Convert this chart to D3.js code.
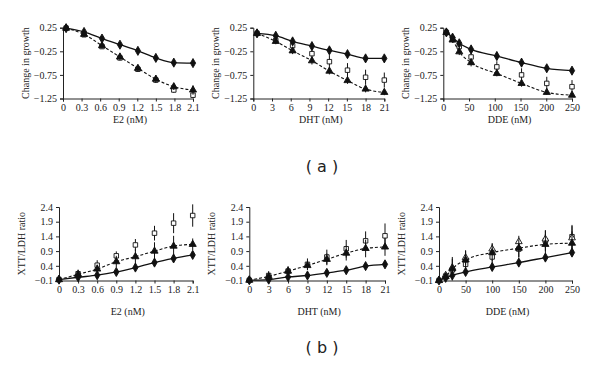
<!DOCTYPE html>
<html>
<head>
<meta charset="utf-8">
<script src="https://cdn.jsdelivr.net/npm/d3@7"></script>
<style>
  body { margin: 0; background: #fff; }
  svg text { fill: #222; }
  .tick text { font-family: "Liberation Serif", "Times New Roman", serif; font-size: 10px; }
  .axisText { font-family: "Liberation Serif", "Times New Roman", serif; font-size: 10px; }
  .panelTag { font-family: "DejaVu Sans", Verdana, sans-serif; font-size: 16px; }
</style>
</head>
<body>
<div id="chart"></div>
<script>
// tick labels
var e2Ticks = [0, 0.3, 0.6, 0.9, 1.2, 1.5, 1.8, 2.1];
var dhtTicks = [0, 3, 6, 9, 12, 15, 18, 21];
var ddeTicks = [0, 50, 100, 150, 200, 250];
var growthTicks = [0.25, -0.25, -0.75, -1.25];
var ratioTicks = [-0.1, 0.4, 0.9, 1.4, 1.9, 2.4];

// (a) change in growth
var aE2Dose = [0.05, 0.34, 0.63, 0.92, 1.21, 1.5, 1.79, 2.1];
var aE2Diamond = [0.24, 0.16, 0.02, -0.11, -0.24, -0.39, -0.49, -0.50];
var aE2DiamondErr = [0.03, 0.04, 0.05, 0.05, 0.05, 0.05, 0.03, 0.05];
var aE2Triangle = [0.24, 0.11, -0.13, -0.37, -0.61, -0.84, -1.00, -1.07];
var aE2TriangleErr = [0.03, 0.05, 0.06, 0.07, 0.07, 0.08, 0.07, 0.1];
var aE2Square = [0.24, 0.10, -0.15, -0.39, -0.63, -0.86, -1.07, -1.18];
var aE2SquareErr = [0.03, 0.04, 0.05, 0.05, 0.05, 0.05, 0.06, 0.06];

var aDhtDose = [0.6, 3.6, 6.3, 9.4, 12.2, 15.1, 18, 21];
var aDhtDiamond = [0.13, 0.08, -0.04, -0.14, -0.23, -0.31, -0.40, -0.40];
var aDhtDiamondErr = [0.07, 0.06, 0.07, 0.07, 0.06, 0.06, 0.05, 0.05];
var aDhtTriangle = [0.13, -0.04, -0.24, -0.45, -0.67, -0.87, -1.05, -1.12];
var aDhtTriangleErr = [0.07, 0.06, 0.07, 0.08, 0.07, 0.07, 0.07, 0.06];
var aDhtSquare = [0.13, -0.02, -0.13, -0.30, -0.47, -0.65, -0.80, -0.86];
var aDhtSquareErr = [0.07, 0.07, 0.1, 0.12, 0.14, 0.15, 0.16, 0.16];

var aDdeDose = [6, 18, 31, 54, 104, 152, 201, 250];
var aDdeDiamond = [0.15, 0.04, -0.08, -0.21, -0.35, -0.49, -0.61, -0.66];
var aDdeDiamondErr = [0.05, 0.06, 0.07, 0.08, 0.09, 0.09, 0.07, 0.05];
var aDdeTriangle = [0.15, -0.01, -0.26, -0.49, -0.72, -0.93, -1.12, -1.18];
var aDdeTriangleErr = [0.05, 0.06, 0.07, 0.08, 0.06, 0.07, 0.05, 0.04];
var aDdeSquare = [0.15, 0.01, -0.15, -0.37, -0.58, -0.75, -0.93, -1.00];
var aDdeSquareErr = [0.05, 0.06, 0.08, 0.1, 0.12, 0.14, 0.14, 0.14];

// (b) XTT/LDH ratio
var bE2Dose = [0, 0.3, 0.6, 0.9, 1.2, 1.5, 1.8, 2.1];
var bE2Diamond = [-0.07, 0.01, 0.08, 0.19, 0.34, 0.51, 0.65, 0.77];
var bE2DiamondErr = [0.03, 0.05, 0.06, 0.06, 0.08, 0.1, 0.1, 0.12];
var bE2Triangle = [-0.07, 0.11, 0.29, 0.54, 0.71, 0.90, 1.07, 1.13];
var bE2TriangleErr = [0.04, 0.1, 0.15, 0.2, 0.25, 0.3, 0.35, 0.2];
var bE2Square = [-0.07, 0.13, 0.42, 0.74, 1.11, 1.51, 1.85, 2.11];
var bE2SquareErr = [0.03, 0.14, 0.17, 0.15, 0.2, 0.25, 0.34, 0.38];

var bDhtDose = [0, 3, 6, 9, 12, 15, 18, 21];
var bDhtDiamond = [-0.09, -0.07, 0.02, 0.07, 0.16, 0.25, 0.39, 0.45];
var bDhtDiamondErr = [0.03, 0.05, 0.08, 0.1, 0.1, 0.1, 0.1, 0.1];
var bDhtTriangle = [-0.09, 0.04, 0.22, 0.41, 0.62, 0.83, 0.99, 1.04];
var bDhtTriangleErr = [0.03, 0.1, 0.12, 0.15, 0.2, 0.25, 0.3, 0.3];
var bDhtSquare = [-0.09, 0.07, 0.22, 0.45, 0.70, 0.98, 1.25, 1.42];
var bDhtSquareErr = [0.03, 0.15, 0.17, 0.2, 0.25, 0.3, 0.32, 0.42];

var bDdeDose = [0, 12.5, 25, 50, 100, 150, 200, 250];
var bDdeDiamond = [-0.1, -0.01, 0.07, 0.19, 0.36, 0.51, 0.68, 0.85];
var bDdeDiamondErr = [0.03, 0.08, 0.1, 0.12, 0.12, 0.12, 0.12, 0.12];
var bDdeTriangle = [-0.1, 0.03, 0.30, 0.60, 0.85, 1.00, 1.13, 1.17];
var bDdeTriangleErr = [0.03, 0.1, 0.4, 0.3, 0.3, 0.3, 0.35, 0.4];
var bDdeSquare = [-0.1, 0.05, 0.26, 0.45, 0.70, 0.97, 1.25, 1.39];
var bDdeSquareErr = [0.03, 0.1, 0.2, 0.25, 0.25, 0.3, 0.35, 0.4];
var bDdeOpenTri = [-0.1, 0.08, 0.34, 0.68, 0.97, 1.22, 1.31, 1.35];
var bDdeOpenTriErr = [0.03, 0.1, 0.3, 0.25, 0.2, 0.2, 0.3, 0.4];

var svgWidth = 600;
var svgHeight = 366;

var svg = d3.select("#chart")
  .append("svg")
  .attr("width", svgWidth)
  .attr("height", svgHeight);

// build panel configs from the arrays above
function seriesOf(dose, vals, errs) {
  return dose.map((x, i) => ({ x: x, y: vals[i], e: errs[i] }));
}

var panels = [
  { left: 63, right: 193, top: 27.7, bottom: 98.5, xMax: 2.1, xTicks: e2Ticks, labelGap: 24.5,
    yDomain: [-1.25, 0.25], yTicks: growthTicks, yLabel: "Change in growth", xLabel: "E2 (nM)",
    diamond: seriesOf(aE2Dose, aE2Diamond, aE2DiamondErr),
    triangle: seriesOf(aE2Dose, aE2Triangle, aE2TriangleErr),
    square: seriesOf(aE2Dose, aE2Square, aE2SquareErr) },
  { left: 253.3, right: 384.3, top: 27.7, bottom: 98.5, xMax: 21, xTicks: dhtTicks, labelGap: 24.5,
    yDomain: [-1.25, 0.25], yTicks: growthTicks, yLabel: "Change in growth", xLabel: "DHT (nM)",
    diamond: seriesOf(aDhtDose, aDhtDiamond, aDhtDiamondErr),
    triangle: seriesOf(aDhtDose, aDhtTriangle, aDhtTriangleErr),
    square: seriesOf(aDhtDose, aDhtSquare, aDhtSquareErr) },
  { left: 443.3, right: 572, top: 27.7, bottom: 98.5, xMax: 250, xTicks: ddeTicks, labelGap: 24.5,
    yDomain: [-1.25, 0.25], yTicks: growthTicks, yLabel: "Change in growth", xLabel: "DDE (nM)",
    diamond: seriesOf(aDdeDose, aDdeDiamond, aDdeDiamondErr),
    triangle: seriesOf(aDdeDose, aDdeTriangle, aDdeTriangleErr),
    square: seriesOf(aDdeDose, aDdeSquare, aDdeSquareErr) },
  { left: 59, right: 192.7, top: 207, bottom: 280.5, xMax: 2.1, xTicks: e2Ticks, labelGap: 34,
    yDomain: [-0.1, 2.4], yTicks: ratioTicks, yLabel: "XTT/LDH ratio", xLabel: "E2 (nM)",
    diamond: seriesOf(bE2Dose, bE2Diamond, bE2DiamondErr),
    triangle: seriesOf(bE2Dose, bE2Triangle, bE2TriangleErr),
    square: seriesOf(bE2Dose, bE2Square, bE2SquareErr) },
  { left: 249.3, right: 385, top: 207, bottom: 280.5, xMax: 21, xTicks: dhtTicks, labelGap: 34,
    yDomain: [-0.1, 2.4], yTicks: ratioTicks, yLabel: "XTT/LDH ratio", xLabel: "DHT (nM)",
    diamond: seriesOf(bDhtDose, bDhtDiamond, bDhtDiamondErr),
    triangle: seriesOf(bDhtDose, bDhtTriangle, bDhtTriangleErr),
    square: seriesOf(bDhtDose, bDhtSquare, bDhtSquareErr) },
  { left: 439, right: 572, top: 207, bottom: 280.5, xMax: 250, xTicks: ddeTicks, labelGap: 34,
    yDomain: [-0.1, 2.4], yTicks: ratioTicks, yLabel: "XTT/LDH ratio", xLabel: "DDE (nM)",
    diamond: seriesOf(bDdeDose, bDdeDiamond, bDdeDiamondErr),
    triangle: seriesOf(bDdeDose, bDdeTriangle, bDdeTriangleErr),
    square: seriesOf(bDdeDose, bDdeSquare, bDdeSquareErr),
    openTri: seriesOf(bDdeDose, bDdeOpenTri, bDdeOpenTriErr) }
];

var fmt = d => (d < 0 ? "\u2212" : "") + Math.abs(d);

panels.forEach(function(p) {
  var xScale = d3.scaleLinear().domain([0, p.xMax]).range([p.left, p.right]);
  var yScale = d3.scaleLinear().domain(p.yDomain).range([p.bottom, p.top]);
  var g = svg.append("g");

  // axes
  g.append("g")
    .attr("transform", `translate(0, ${p.bottom})`)
    .call(d3.axisBottom(xScale).tickValues(p.xTicks).tickSize(3).tickPadding(2).tickFormat(fmt));
  g.append("g")
    .attr("transform", `translate(${p.left}, 0)`)
    .call(d3.axisLeft(yScale).tickValues(p.yTicks).tickSize(3).tickPadding(3).tickFormat(fmt));
  g.selectAll(".domain").attr("stroke", "#222").attr("stroke-width", 1);
  g.selectAll(".tick line").attr("stroke", "#222");

  // axis labels
  g.append("text")
    .attr("class", "axisText")
    .attr("transform", `translate(${p.left - 34}, ${(p.top + p.bottom) / 2}) rotate(-90)`)
    .attr("text-anchor", "middle")
    .text(p.yLabel);
  g.append("text")
    .attr("class", "axisText")
    .attr("x", (p.left + p.right) / 2 + 2)
    .attr("y", p.bottom + p.labelGap)
    .attr("text-anchor", "middle")
    .text(p.xLabel);

  var line = d3.line().x(d => xScale(d.x)).y(d => yScale(d.y)).curve(d3.curveMonotoneX);

  g.append("path").datum(p.diamond)
    .attr("fill", "none").attr("stroke", "#111").attr("stroke-width", 1.3)
    .attr("d", line);
  g.append("path").datum(p.triangle)
    .attr("fill", "none").attr("stroke", "#111").attr("stroke-width", 1.1)
    .attr("stroke-dasharray", "3,2")
    .attr("d", line);

  // error bars and markers for each series
  var sets = [
    { data: p.square, type: d3.symbolSquare, size: 20, fill: "#fff" },
    { data: p.openTri || [], type: d3.symbolTriangle, size: 20, fill: "#fff" },
    { data: p.triangle, type: d3.symbolTriangle, size: 22, fill: "#111" },
    { data: p.diamond, type: d3.symbolDiamond, size: 24, fill: "#111" }
  ];
  sets.forEach(function(s) {
    g.selectAll(null).data(s.data).enter().append("line")
      .attr("x1", d => xScale(d.x)).attr("x2", d => xScale(d.x))
      .attr("y1", d => yScale(d.y - d.e)).attr("y2", d => yScale(d.y + d.e))
      .attr("stroke", "#111").attr("stroke-width", 1);
    g.selectAll(null).data(s.data).enter().append("path")
      .attr("transform", d => `translate(${xScale(d.x)}, ${yScale(d.y)})`)
      .attr("d", d3.symbol().type(s.type).size(s.size))
      .attr("fill", s.fill).attr("stroke", "#111").attr("stroke-width", 0.9);
  });
});

// panel tags
svg.append("text").attr("class", "panelTag").attr("x", 322).attr("y", 172)
  .attr("text-anchor", "middle").text("( a )");
svg.append("text").attr("class", "panelTag").attr("x", 322).attr("y", 353)
  .attr("text-anchor", "middle").text("( b )");
</script>
</body>
</html>
